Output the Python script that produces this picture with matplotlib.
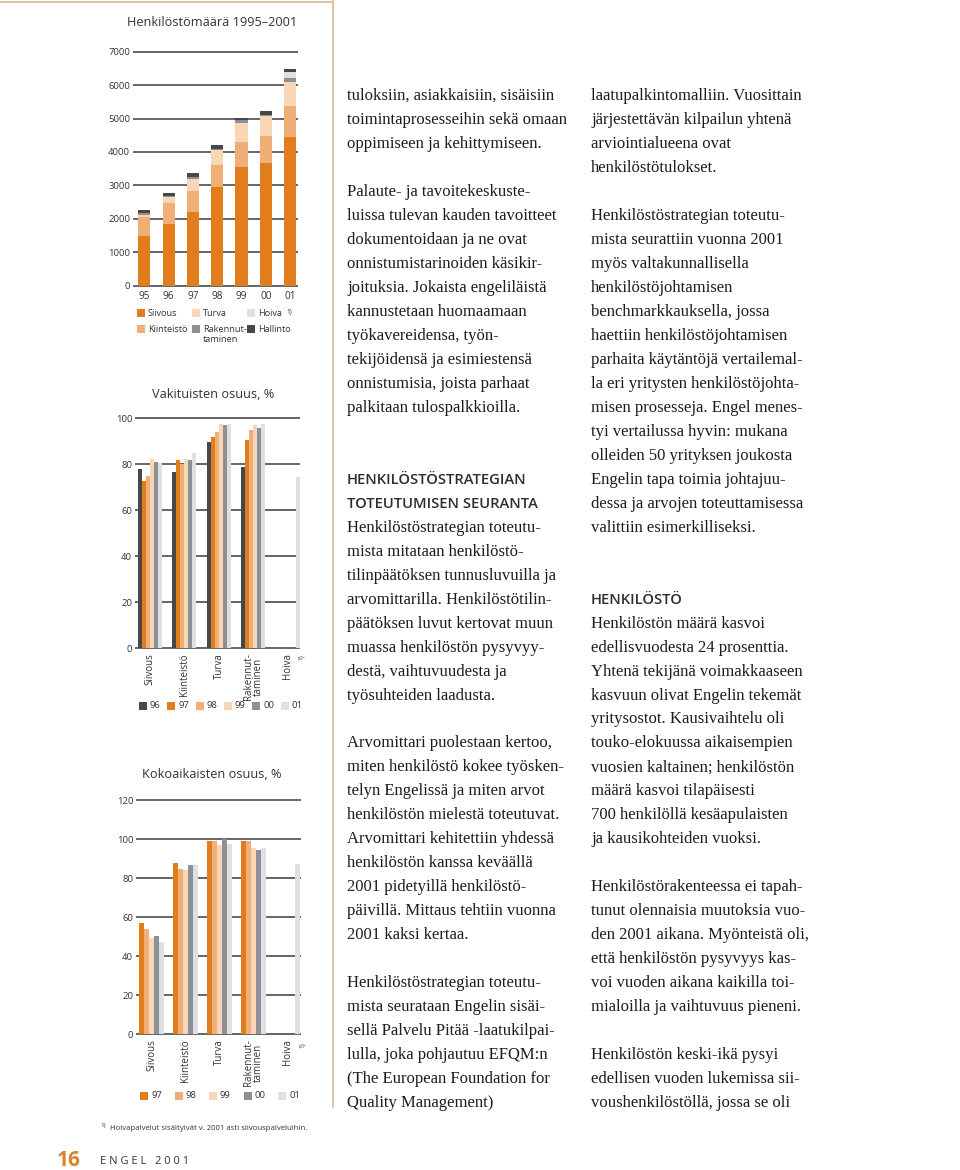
import matplotlib
matplotlib.use("Agg")
import matplotlib.pyplot as plt
from matplotlib.patches import Rectangle
import numpy as np

# ---------------- data ----------------
years_total = ["95", "96", "97", "98", "99", "00", "01"]
siivous = [1490, 1840, 2210, 2940, 3540, 3670, 4440]
kiinteisto = [580, 630, 630, 660, 770, 820, 950]
turva = [40, 170, 350, 450, 560, 580, 700]
rakennut = [80, 50, 60, 50, 80, 50, 110]
hoiva = [0, 0, 0, 0, 0, 0, 190]
hallinto = [80, 90, 110, 100, 70, 100, 100]

categories = ["Siivous", "Kiinteistö", "Turva", "Rakennut-\ntaminen", "Hoiva"]

vak_years = ["96", "97", "98", "99", "00", "01"]
vak_96 = [77.8, 76.8, 89.9, 78.7, 0]
vak_97 = [72.9, 81.9, 91.9, 90.7, 0]
vak_98 = [75.1, 80.1, 93.9, 94.9, 0]
vak_99 = [82.3, 82.3, 97.5, 97.2, 0]
vak_00 = [80.9, 82.0, 97.1, 95.7, 0]
vak_01 = [80.6, 84.8, 97.5, 97.5, 74.3]

koko_years = ["97", "98", "99", "00", "01"]
koko_97 = [56.9, 88.0, 99.0, 99.0, 0]
koko_98 = [54.0, 85.0, 99.0, 99.0, 0]
koko_99 = [49.2, 84.1, 97.3, 95.4, 0]
koko_00 = [50.3, 86.8, 100.0, 94.7, 0]
koko_01 = [47.4, 86.8, 97.4, 95.7, 87.4]

# ---------------- style ----------------
C_SIIV = "#E27D1E"
C_KIIN = "#EFAF76"
C_TURV = "#F9D7B6"
C_HOIV = "#DFE0E2"
C_RAK = "#8B9197"
C_HALL = "#44484D"
YEAR_COL = {"96": C_HALL, "97": C_SIIV, "98": C_KIIN, "99": C_TURV, "00": C_RAK, "01": C_HOIV}
GRID = "#3c3c3c"
TXT = "#333333"
SANS = ["Open Sans", "DejaVu Sans"]
SERIF = ["Liberation Serif", "DejaVu Serif"]

W, H = 960, 1170
fig = plt.figure(figsize=(9.6, 11.7), dpi=100)
fig.patch.set_facecolor("white")


def ax_px(left, top, right, bottom):
    return fig.add_axes([left / W, 1 - bottom / H, (right - left) / W, (bottom - top) / H])


def style_axes(ax, ticks):
    for s in ax.spines.values():
        s.set_visible(False)
    ax.set_yticks(ticks)
    ax.yaxis.grid(True, color=GRID, lw=1.1)
    ax.set_axisbelow(True)
    ax.tick_params(axis="both", length=0, labelsize=6.8, colors=TXT)
    ax.tick_params(axis="y", pad=2)
    for lab in ax.get_yticklabels():
        lab.set_fontfamily(SANS)
    ax.set_facecolor("none")


# ---------------- chart 1: stacked ----------------
ax1 = ax_px(133, 48.35, 298, 288.4)
ax1.set_ylim(-80, 7100)
ax1.set_xlim(-0.465, 6.325)
x1 = np.arange(len(years_total))
bottom = np.zeros(len(years_total))
for vals, col in [(siivous, C_SIIV), (kiinteisto, C_KIIN), (turva, C_TURV),
                  (rakennut, C_RAK), (hoiva, C_HOIV), (hallinto, C_HALL)]:
    ax1.bar(x1, vals, bottom=bottom, width=0.5, color=col, linewidth=0, zorder=3)
    bottom += np.array(vals)
style_axes(ax1, range(0, 7001, 1000))
ax1.set_xticks(x1)
ax1.set_xticklabels(years_total, fontfamily=SANS, fontsize=7.2, color=TXT)
ax1.tick_params(axis="x", pad=2)

# ---------------- chart 2: grouped ----------------
ax2 = ax_px(135, 416.0, 300, 650.6)
ax2.set_ylim(-1, 101)
ax2.set_xlim(-0.435, 4.35)
g = np.arange(len(categories))
w2 = 4 / 34.5
for k, (yr, vals) in enumerate(zip(vak_years, [vak_96, vak_97, vak_98, vak_99, vak_00, vak_01])):
    ax2.bar(g + (k - 2.5) * w2, vals, width=w2, color=YEAR_COL[yr], linewidth=0, zorder=3)
style_axes(ax2, range(0, 101, 20))
ax2.set_xticks(g)
ax2.set_xticklabels(categories, rotation=90, va="top", ha="center",
                    fontfamily=SANS, fontsize=7, color=TXT, linespacing=0.95)
ax2.tick_params(axis="x", pad=2)

# ---------------- chart 3: grouped ----------------
ax3 = ax_px(136, 797.96, 301, 1036.6)
ax3.set_ylim(-1.2, 121.2)
ax3.set_xlim(-0.456, 4.397)
w3 = 5 / 34.0
for k, (yr, vals) in enumerate(zip(koko_years, [koko_97, koko_98, koko_99, koko_00, koko_01])):
    ax3.bar(g + (k - 2) * w3, vals, width=w3, color=YEAR_COL[yr], linewidth=0, zorder=3)
style_axes(ax3, range(0, 121, 20))
ax3.set_xticks(g)
ax3.set_xticklabels(categories, rotation=90, va="top", ha="center",
                    fontfamily=SANS, fontsize=7, color=TXT, linespacing=0.95)
ax3.tick_params(axis="x", pad=2)

# ---------------- overlay in pixel coords ----------------
ov = fig.add_axes([0, 0, 1, 1])
ov.set_xlim(0, W)
ov.set_ylim(H, 0)
ov.axis("off")
ov.patch.set_visible(False)

# frame lines
ov.plot([0, 333], [2, 2], color="#D8C29E", lw=1.3, solid_capstyle="butt")
ov.plot([333, 333], [0, 1108], color="#D8C29E", lw=1.3, solid_capstyle="butt")

# titles
ov.text(127, 22, "Henkilöstömäärä 1995–2001", fontfamily=SANS, fontsize=9.2, color=TXT, va="center", ha="left")
ov.text(152, 394, "Vakituisten osuus, %", fontfamily=SANS, fontsize=9.2, color=TXT, va="center", ha="left")
ov.text(142, 774, "Kokoaikaisten osuus, %", fontfamily=SANS, fontsize=9.2, color=TXT, va="center", ha="left")


def patch(x, y, col, s=8):
    ov.add_patch(Rectangle((x, y - s / 2), s, s, facecolor=col, edgecolor="none"))


# legend chart 1
leg1 = [("Siivous", C_SIIV, 137, 313), ("Turva", C_TURV, 192, 313), ("Hoiva", C_HOIV, 247, 313),
        ("Kiinteistö", C_KIIN, 137, 329), ("Rakennut-", C_RAK, 192, 329), ("Hallinto", C_HALL, 247, 329)]
for lab, col, x, y in leg1:
    patch(x, y, col)
    ov.text(x + 11, y, lab, fontfamily=SANS, fontsize=6.6, color=TXT, va="center", ha="left")
ov.text(203, 340, "taminen", fontfamily=SANS, fontsize=6.6, color=TXT, va="center", ha="left")
ov.text(286, 312, "1)", fontfamily=SANS, fontsize=4.8, color=TXT, va="center", ha="left")

# superscripts for rotated Hoiva labels
ov.text(301, 657, "1)", fontfamily=SANS, fontsize=4.8, color=TXT, va="center", ha="center", rotation=90)
ov.text(302, 1045, "1)", fontfamily=SANS, fontsize=4.8, color=TXT, va="center", ha="center", rotation=90)

# legend chart 2
for i, yr in enumerate(vak_years):
    x = 139 + i * 28.3
    patch(x, 706, YEAR_COL[yr])
    ov.text(x + 11, 706, yr, fontfamily=SANS, fontsize=6.8, color=TXT, va="center", ha="left")

# legend chart 3
for i, yr in enumerate(koko_years):
    x = 140 + i * 34.5
    patch(x, 1096, YEAR_COL[yr])
    ov.text(x + 11, 1096, yr, fontfamily=SANS, fontsize=6.8, color=TXT, va="center", ha="left")

# footnote and page footer
ov.text(100, 1126, "1)", fontfamily=SANS, fontsize=4.5, color=TXT, va="center", ha="left")
ov.text(110, 1128, "Hoivapalvelut sisältyivät v. 2001 asti siivouspalveluihin.",
        fontfamily=SANS, fontsize=5.6, color=TXT, va="center", ha="left")
ov.text(57, 1160, "16", fontfamily=SANS, fontsize=15, fontweight="bold", color="#D9832C", va="center", ha="left")
ov.text(100, 1162, "E N G E L   2 0 0 1", fontfamily=SANS, fontsize=8, color=TXT, va="center", ha="left")

# ---------------- text columns ----------------
col2 = [
    "tuloksiin, asiakkaisiin, sisäisiin",
    "toimintaprosesseihin sekä omaan",
    "oppimiseen ja kehittymiseen.",
    "",
    "Palaute- ja tavoitekeskuste-",
    "luissa tulevan kauden tavoitteet",
    "dokumentoidaan ja ne ovat",
    "onnistumistarinoiden käsikir-",
    "joituksia. Jokaista engeliläistä",
    "kannustetaan huomaamaan",
    "työkavereidensa, työn-",
    "tekijöidensä ja esimiestensä",
    "onnistumisia, joista parhaat",
    "palkitaan tulospalkkioilla.",
    "",
    "",
    "#HENKILÖSTÖSTRATEGIAN",
    "#TOTEUTUMISEN SEURANTA",
    "Henkilöstöstrategian toteutu-",
    "mista mitataan henkilöstö-",
    "tilinpäätöksen tunnusluvuilla ja",
    "arvomittarilla. Henkilöstötilin-",
    "päätöksen luvut kertovat muun",
    "muassa henkilöstön pysyvyy-",
    "destä, vaihtuvuudesta ja",
    "työsuhteiden laadusta.",
    "",
    "Arvomittari puolestaan kertoo,",
    "miten henkilöstö kokee työsken-",
    "telyn Engelissä ja miten arvot",
    "henkilöstön mielestä toteutuvat.",
    "Arvomittari kehitettiin yhdessä",
    "henkilöstön kanssa keväällä",
    "2001 pidetyillä henkilöstö-",
    "päivillä. Mittaus tehtiin vuonna",
    "2001 kaksi kertaa.",
    "",
    "Henkilöstöstrategian toteutu-",
    "mista seurataan Engelin sisäi-",
    "sellä Palvelu Pitää -laatukilpai-",
    "lulla, joka pohjautuu EFQM:n",
    "(The European Foundation for",
    "Quality Management)",
]
col3 = [
    "laatupalkintomalliin. Vuosittain",
    "järjestettävän kilpailun yhtenä",
    "arviointialueena ovat",
    "henkilöstötulokset.",
    "",
    "Henkilöstöstrategian toteutu-",
    "mista seurattiin vuonna 2001",
    "myös valtakunnallisella",
    "henkilöstöjohtamisen",
    "benchmarkkauksella, jossa",
    "haettiin henkilöstöjohtamisen",
    "parhaita käytäntöjä vertailemal-",
    "la eri yritysten henkilöstöjohta-",
    "misen prosesseja. Engel menes-",
    "tyi vertailussa hyvin: mukana",
    "olleiden 50 yrityksen joukosta",
    "Engelin tapa toimia johtajuu-",
    "dessa ja arvojen toteuttamisessa",
    "valittiin esimerkilliseksi.",
    "",
    "",
    "#HENKILÖSTÖ",
    "Henkilöstön määrä kasvoi",
    "edellisvuodesta 24 prosenttia.",
    "Yhtenä tekijänä voimakkaaseen",
    "kasvuun olivat Engelin tekemät",
    "yritysostot. Kausivaihtelu oli",
    "touko-elokuussa aikaisempien",
    "vuosien kaltainen; henkilöstön",
    "määrä kasvoi tilapäisesti",
    "700 henkilöllä kesäapulaisten",
    "ja kausikohteiden vuoksi.",
    "",
    "Henkilöstörakenteessa ei tapah-",
    "tunut olennaisia muutoksia vuo-",
    "den 2001 aikana. Myönteistä oli,",
    "että henkilöstön pysyvyys kas-",
    "voi vuoden aikana kaikilla toi-",
    "mialoilla ja vaihtuvuus pieneni.",
    "",
    "Henkilöstön keski-ikä pysyi",
    "edellisen vuoden lukemissa sii-",
    "voushenkilöstöllä, jossa se oli",
]


def draw_column(lines, x0, y0=95.0, dy=23.98):
    for i, line in enumerate(lines):
        if not line:
            continue
        y = y0 + i * dy
        if line.startswith("#"):
            ov.text(x0, y + 5, line[1:], fontfamily=SANS, fontsize=10.6, fontweight="semibold",
                    color="#2e2e2e", va="baseline", ha="left")
        else:
            ov.text(x0, y + 5, line, fontfamily=SERIF, fontsize=12, color="#1c1c1c",
                    va="baseline", ha="left")


draw_column(col2, 347)
draw_column(col3, 591)

fig.savefig("out.png", dpi=100, facecolor="white")
